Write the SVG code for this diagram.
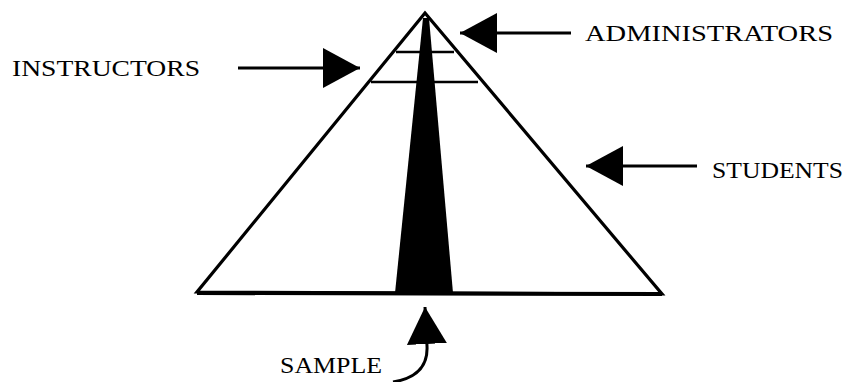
<svg xmlns="http://www.w3.org/2000/svg" width="857" height="382" viewBox="0 0 857 382">
<style>
.lbl{font-family:"Liberation Serif","DejaVu Serif",serif;font-size:23px;fill:#000}
.edge{fill:#fff;stroke:#000;stroke-width:3.2;stroke-linejoin:miter}
.tier{stroke:#000;stroke-width:2.5}
.conn{fill:none;stroke:#000;stroke-width:3}
</style>
<defs>
<marker id="ah" markerUnits="userSpaceOnUse" markerWidth="38" markerHeight="42" refX="37" refY="20" orient="auto" viewBox="0 0 38 42">
<path d="M0,0 L37,20 L0,40 z" fill="#000"/>
</marker>
</defs>
<rect width="857" height="382" fill="#fff"/>
<g id="pyramid">
<polygon class="edge" points="425,13 197,292 662,294"/>
<line class="tier" x1="396" y1="52" x2="454" y2="52"/>
<line class="tier" x1="371" y1="82" x2="478" y2="82"/>
<polygon points="423,18 429,18 453,293 395,293" fill="#000"/>
<line x1="197" y1="293" x2="662" y2="294" stroke="#000" stroke-width="4"/>
</g>
<g id="instructors"><text class="lbl" x="12" y="76" textLength="188" lengthAdjust="spacingAndGlyphs">INSTRUCTORS</text></g>
<g id="administrators"><text class="lbl" x="585" y="41" textLength="248" lengthAdjust="spacingAndGlyphs">ADMINISTRATORS</text></g>
<g id="students"><text class="lbl" x="712" y="178" textLength="131" lengthAdjust="spacingAndGlyphs">STUDENTS</text></g>
<g id="sample"><text class="lbl" x="280" y="373" textLength="102" lengthAdjust="spacingAndGlyphs">SAMPLE</text></g>
<g id="connectors">
<path class="conn" d="M238,68 L360,68" marker-end="url(#ah)"/>
<path class="conn" d="M571,33 L460,33" marker-end="url(#ah)"/>
<path class="conn" d="M697,166 L586,166" marker-end="url(#ah)"/>
<path class="conn" d="M393,382 C418,378 428,365 427,346 L425,307" marker-end="url(#ah)"/>
</g>
</svg>
